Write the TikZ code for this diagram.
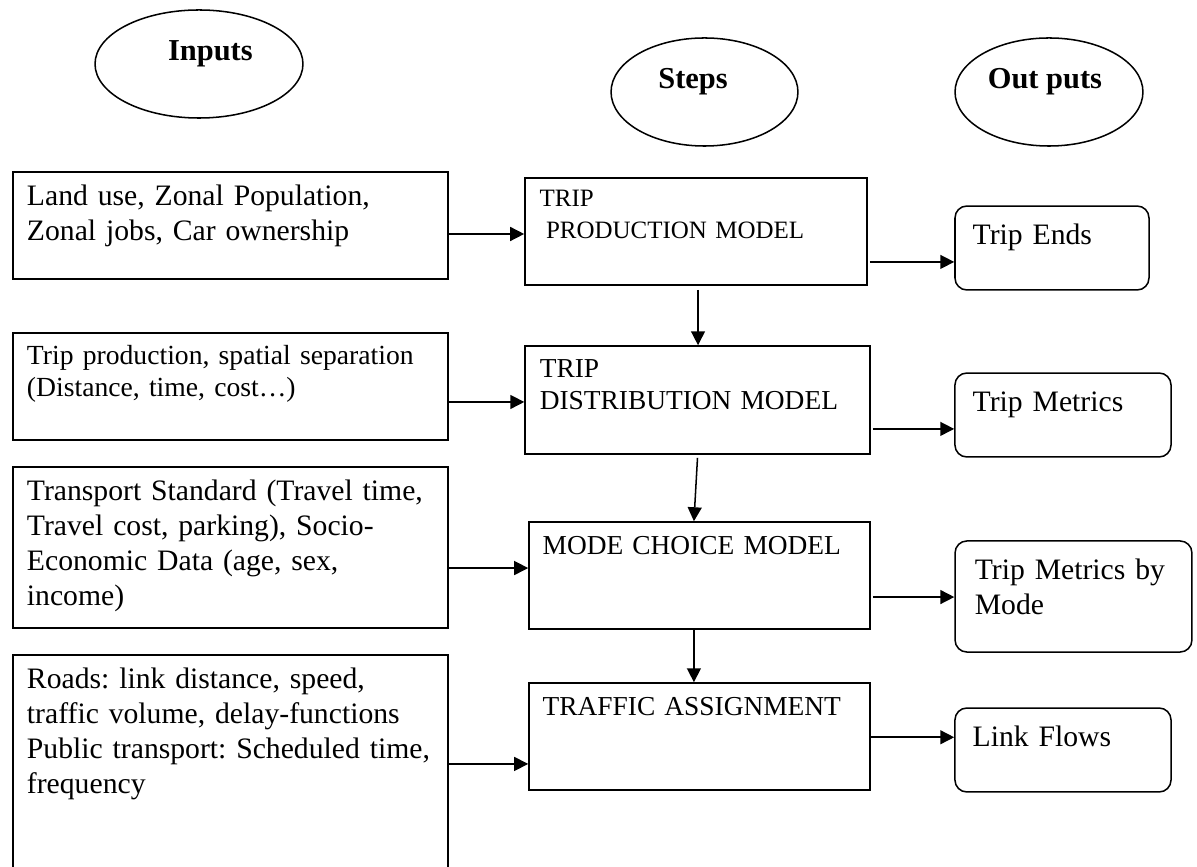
\documentclass[tikz,border=0pt]{standalone}
\usepackage{fontspec}
\setmainfont{Liberation Serif}
\usetikzlibrary{shapes.geometric,arrows.meta,calc}
\frenchspacing

\begin{document}
\begin{tikzpicture}[x=0.3943pt, y=-0.3943pt, >={Triangle[length=5.5pt,width=5.5pt]},
	head/.style={draw, ellipse, line width=0.6pt, inner sep=0pt, minimum height=42.6pt},
	headlab/.style={font=\bfseries\fontsize{12}{14}\selectfont, text height=8.1pt, text depth=2.6pt, inner sep=0pt, yshift=4.2pt},
	inbox/.style={draw, rectangle, line width=0.6pt, minimum width=171.5pt, inner sep=0pt},
	intext/.style={anchor=base west, inner sep=0pt, align=left, text width=180pt, font=\fontsize{11.7}{13.8}\selectfont},
	stepbox/.style={draw, rectangle, line width=0.6pt, inner sep=0pt, minimum height=42.2pt},
	steptext/.style={anchor=base west, inner sep=0pt, align=left, text width=135pt, font=\fontsize{10.8}{12.6}\selectfont},
	outbox/.style={draw, rectangle, rounded corners=4.7pt, line width=0.6pt, inner sep=0pt, minimum height=33.1pt},
	outtext/.style={anchor=base west, inner sep=0pt, align=left, text width=90pt, font=\fontsize{11.7}{14}\selectfont},
	arr/.style={->, line width=0.6pt}]
			\useasboundingbox (0,0) rectangle (1197,867);

			% Draw the three column headings
			\node[head, minimum width=82pt, label={[headlab, xshift=4.5pt]center:Inputs}] (inputs) at (199,64) {};
			\node[head, minimum width=73.7pt, label={[headlab, xshift=-4.5pt]center:Steps}] (steps) at (704.5,92) {};
			\node[head, minimum width=74.1pt, label={[headlab, xshift=-1.6pt]center:Out puts}] (outputs) at (1049,92) {};

			% Draw the input boxes
			\node[inbox, minimum height=42.2pt] (in1) at (230.4,225.5) {};
			\node[inbox, minimum height=42.2pt] (in2) at (230.4,386.5) {};
			\node[inbox, minimum height=63.5pt] (in3) at (230.4,547.5) {};
			\node[inbox, minimum height=88.7pt] (in4) at (230.4,767.5) {};
			\node[intext] (in1txt) at ($(in1.north west)+(14.3,34)$) {Land use, Zonal Population,\\Zonal jobs, Car ownership};
			\node[intext, font=\fontsize{10.9}{12.6}\selectfont] (in2txt) at ($(in2.north west)+(14.3,32)$) {Trip production, spatial separation\\(Distance, time, cost…)};
			\node[intext] (in3txt) at ($(in3.north west)+(14.3,34)$) {Transport Standard (Travel time,\\Travel cost, parking), Socio-\\Economic Data (age, sex,\\income)};
			\node[intext] (in4txt) at ($(in4.north west)+(14.3,34)$) {Roads: link distance, speed,\\traffic volume, delay-functions\\Public transport: Scheduled time,\\frequency};

			% Draw the model steps
			\node[stepbox, minimum width=134.9pt] (st1) at (696,231.5) {};
			\node[stepbox, minimum width=136pt, minimum height=42.6pt] (st2) at (697.5,400) {};
			\node[stepbox, minimum width=134.5pt] (st3) at (699.5,575.5) {};
			\node[stepbox, minimum width=134.5pt] (st4) at (699.5,736.5) {};
			\node[steptext, font=\fontsize{9.85}{12.3}\selectfont] (st1txt) at ($(st1.north west)+(15,29.7)$) {TRIP\\\hspace*{2.5pt}PRODUCTION MODEL};
			\node[steptext] (st2txt) at ($(st2.north west)+(15,32)$) {TRIP\\DISTRIBUTION MODEL};
			\node[steptext] (st3txt) at ($(st3.north west)+(14,33)$) {MODE CHOICE MODEL};
			\node[steptext] (st4txt) at ($(st4.north west)+(14,33)$) {TRAFFIC ASSIGNMENT};

			% Draw the outputs
			\node[outbox, minimum width=76.5pt] (out1) at (1052,248) {};
			\node[outbox, minimum width=85.2pt] (out2) at (1063,415) {};
			\node[outbox, minimum width=93.4pt, minimum height=43.8pt] (out3) at (1073.5,596.5) {};
			\node[outbox, minimum width=85.2pt] (out4) at (1063,750) {};
			\node[outtext] (out1txt) at ($(out1.north west)+(18,39)$) {Trip Ends};
			\node[outtext] (out2txt) at ($(out2.north west)+(18,39)$) {Trip Metrics};
			\node[outtext] (out3txt) at ($(out3.north west)+(20,39)$) {Trip Metrics by\\Mode};
			\node[outtext] (out4txt) at ($(out4.north west)+(18,39)$) {Link Flows};

			% Inputs feed the steps
			\draw[arr] ([yshift=-3.35pt]in1.east) -- ([yshift=-3.35pt]in1.east -| st1.west);
			\draw[arr] ([yshift=-6.1pt]in2.east) -- ([yshift=-6.1pt]in2.east -| st2.west);
			\draw[arr] ([yshift=-8.1pt]in3.east) -- ([yshift=-8.1pt]in3.east -| st3.west);
			\draw[arr] ([yshift=1.4pt]in4.east) -- ([yshift=1.4pt]in4.east -| st4.west);

			% Steps give the outputs
			\draw[arr] ([xshift=0.8pt,yshift=-12pt]st1.east) -- ([yshift=-12pt]st1.east -| out1.west);
			\draw[arr] ([xshift=0.8pt,yshift=-11.4pt]st2.east) -- ([yshift=-11.4pt]st2.east -| out2.west);
			\draw[arr] ([xshift=0.8pt,yshift=-8.5pt]st3.east) -- ([yshift=-8.5pt]st3.east -| out3.west);
			\draw[arr] ([yshift=-0.3pt]st4.east) -- ([yshift=-0.3pt]st4.east -| out4.west);

			% Chain the steps
			\draw[arr] ([xshift=0.8pt,yshift=-1.6pt]st1.south) -- ([xshift=0.8pt]st1.south |- st2.north);
			\draw[arr] ([yshift=-1.2pt]st2.south) -- ([xshift=-2.2pt]st3.north);
			\draw[arr] ([xshift=-2.2pt]st3.south) -- ([xshift=-2.2pt]st3.south |- st4.north);
		\end{tikzpicture}
\end{document}
